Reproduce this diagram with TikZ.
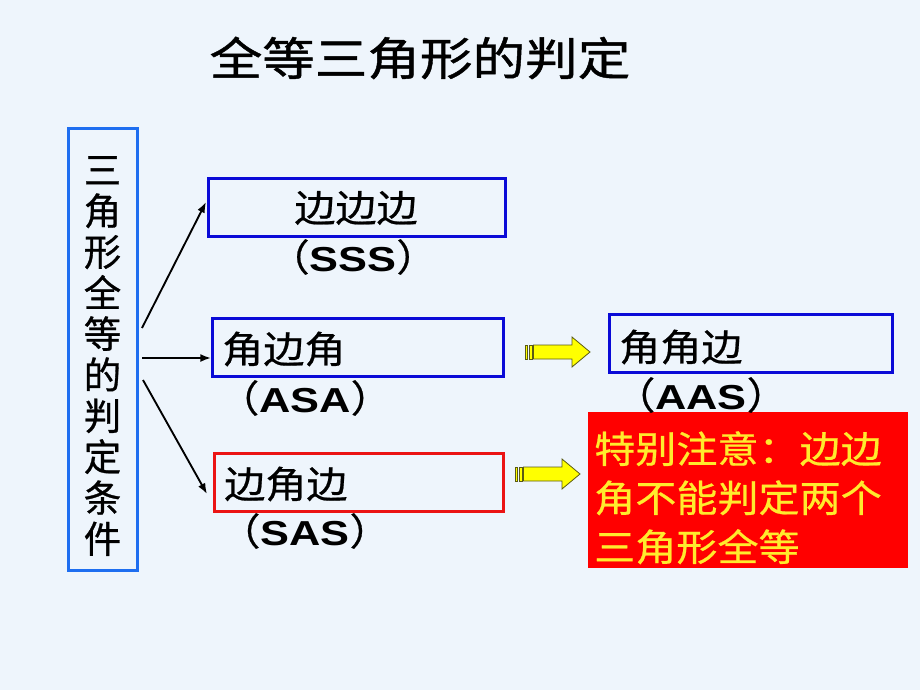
\documentclass[tikz,border=0pt]{standalone}
\usepackage{fontspec}
\setmainfont{Liberation Sans}
\newfontfamily\cjk[FakeStretch=1.1,FakeBold=0.6]{Noto Sans CJK SC}
\newfontfamily\cjkt[FakeStretch=1.16,FakeBold=1]{Noto Sans CJK SC}
\newfontfamily\cjkv[FakeBold=0.8]{Noto Sans CJK SC}
\newfontfamily\latb[FakeStretch=1.25]{Liberation Sans Bold}
\usetikzlibrary{arrows.meta}
\definecolor{bg}{RGB}{238,245,252}
\definecolor{lblue}{RGB}{30,110,240}
\definecolor{dblue}{RGB}{10,10,215}
\definecolor{bred}{RGB}{235,20,20}
\definecolor{fillred}{RGB}{255,0,0}
\definecolor{yel}{RGB}{255,255,0}
\definecolor{olivel}{RGB}{90,90,20}
\definecolor{txtyel}{RGB}{255,235,45}
\tikzset{
  framebox/.style={draw, line width=2.25pt, inner sep=0pt},
  boxtext/.style={inner sep=0pt, font=\cjk\fontsize{28}{30}\selectfont},
  abbr/.style={inner sep=0pt},
  conn/.style={line width=1.4pt, -{Latex[length=8pt,width=6pt]}},
  stripe arrow/.pic={
    \draw[olivel, fill=yel, line width=0.6pt] (0,-7) rectangle (2.5,7);
    \draw[olivel, fill=yel, line width=0.6pt] (4,-7) rectangle (7,7);
    \draw[olivel, fill=yel, line width=0.6pt] (8.5,-7) -- (47,-7) -- (47,-15) -- (65,0) -- (47,15) -- (47,7) -- (8.5,7) -- cycle;
  }
}
\newcommand{\abbrtext}[1]{{\cjk\fontsize{28}{30}\selectfont （}{\latb\fontsize{26}{30}\selectfont #1}{\cjk\fontsize{28}{30}\selectfont ）}}
\begin{document}
\begin{tikzpicture}[x=0.75pt,y=-0.75pt]
\fill[bg] (0,0) rectangle (920,690);
\useasboundingbox (0,0) rectangle (920,690);

% title
\node[inner sep=0pt, font=\cjkt\fontsize{34}{36}\selectfont] (title) at (420,58) {全等三角形的判定};

% left box
\node[framebox, draw=lblue, minimum width=51.75pt, minimum height=331.5pt] (left) at (102.5,349) {};
\node[inner sep=0pt, align=center, font=\cjkv\fontsize{28}{30.75}\selectfont] (lefttext) at (102.5,356)
  {三\\角\\形\\全\\等\\的\\判\\定\\条\\件};

% boxes
\node[framebox, draw=dblue, minimum width=222.75pt, minimum height=43.5pt] (sss) at (356.5,207) {};
\node[framebox, draw=dblue, minimum width=218.25pt, minimum height=43.5pt] (asa) at (357.5,347) {};
\node[framebox, draw=bred, minimum width=216.75pt, minimum height=43.5pt] (sas) at (358.5,482) {};
\node[framebox, draw=dblue, minimum width=212.25pt, minimum height=43.5pt] (aas) at (750.5,343) {};
\node[fill=fillred, inner sep=0pt, minimum width=240pt, minimum height=117pt] (note) at (748,490) {};

% texts
\node[boxtext] (sssname) at (356,208) {边边边};
\node[abbr] (sssabbr) at (353,257) {\abbrtext{SSS}};
\node[boxtext, anchor=west] (asaname) at (222,349) {角边角};
\node[abbr] (asaabbr) at (305,398) {\abbrtext{ASA}};
\node[boxtext, anchor=west] (sasname) at (224,484) {边角边};
\node[abbr] (sasabbr) at (305,531) {\abbrtext{SAS}};
\node[boxtext, anchor=west] (aasname) at (619,347) {角角边};
\node[abbr] (aasabbr) at (701,395) {\abbrtext{AAS}};
\node[inner sep=0pt, anchor=north west, align=left, text=txtyel,
      font=\cjk\fontsize{28}{36.75}\selectfont] (notetext) at (594,431)
  {特别注意：边边\\角不能判定两个\\三角形全等};

% connectors
\coordinate (a1s) at (142,328);
\coordinate (a1e) at (206,202);
\coordinate (a2s) at (142,358);
\coordinate (a2e) at (211,358);
\coordinate (a3s) at (143,380);
\coordinate (a3e) at (207,494);
\draw[conn] (a1s) -- (a1e);
\draw[conn] (a2s) -- (a2e);
\draw[conn] (a3s) -- (a3e);

% striped arrows
\pic at (525,352) {stripe arrow};
\pic at (515,474) {stripe arrow};
\end{tikzpicture}
\end{document}
